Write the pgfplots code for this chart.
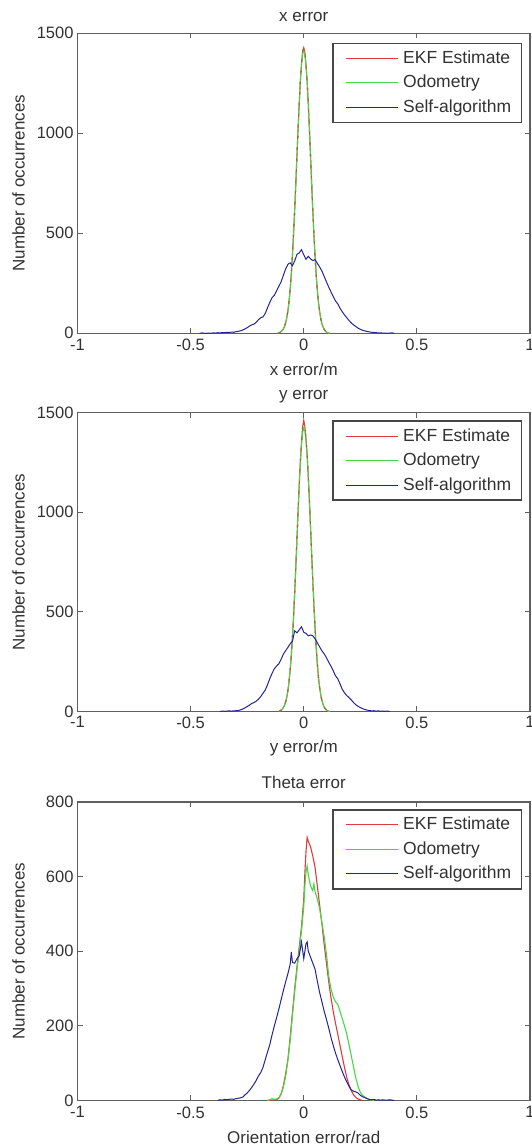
\documentclass[border=0pt]{standalone}
\usepackage{fontspec}
\setmainfont{Liberation Sans}
\usepackage{pgfplots}
\usepackage{pgfplotstable}
\pgfplotsset{compat=1.18}
\definecolor{mred}{RGB}{222,60,60}
\definecolor{mgreen}{RGB}{70,215,70}
\definecolor{mblue}{RGB}{35,35,150}
\definecolor{axgray}{RGB}{95,95,95}
\definecolor{txtgray}{RGB}{50,50,50}
\definecolor{legframe}{RGB}{70,70,70}
\definecolor{dashbrown}{RGB}{170,100,50}

% ---------- x error ----------
\pgfplotstableread{
x y
-0.115 0
-0.110 2
-0.105 4
-0.100 9
-0.095 14
-0.090 22
-0.085 34
-0.080 52
-0.075 78
-0.070 112
-0.065 160
-0.060 221
-0.055 297
-0.050 390
-0.045 498
-0.040 620
-0.035 752
-0.030 890
-0.025 1025
-0.020 1150
-0.015 1262
-0.010 1345
-0.005 1410
0.000 1428
0.005 1405
0.010 1340
0.015 1258
0.020 1148
0.025 1022
0.030 885
0.035 748
0.040 615
0.045 492
0.050 385
0.055 292
0.060 216
0.065 156
0.070 110
0.075 75
0.080 50
0.085 32
0.090 20
0.095 12
0.100 7
0.105 3
0.110 1
0.115 0
}\xred
\pgfplotstableread{
x y
-0.115 0
-0.110 2
-0.105 4
-0.100 9
-0.095 14
-0.090 22
-0.085 34
-0.080 52
-0.075 78
-0.070 112
-0.065 160
-0.060 221
-0.055 297
-0.050 390
-0.045 498
-0.040 620
-0.035 752
-0.030 890
-0.025 1025
-0.020 1150
-0.015 1262
-0.010 1345
-0.005 1398
0.000 1412
0.005 1395
0.010 1340
0.015 1258
0.020 1148
0.025 1022
0.030 885
0.035 748
0.040 615
0.045 492
0.050 385
0.055 292
0.060 216
0.065 156
0.070 110
0.075 75
0.080 50
0.085 32
0.090 20
0.095 12
0.100 7
0.105 3
0.110 1
0.115 0
}\xgreen
\pgfplotstableread{
x y
-0.46 0
-0.45 2
-0.44 0
-0.43 0
-0.42 1
-0.41 0
-0.40 2
-0.39 1
-0.38 3
-0.37 2
-0.36 4
-0.35 3
-0.34 5
-0.33 4
-0.32 6
-0.31 5
-0.30 8
-0.29 10
-0.28 12
-0.27 16
-0.26 22
-0.25 28
-0.24 36
-0.23 42
-0.22 46
-0.21 55
-0.20 68
-0.19 78
-0.18 82
-0.17 100
-0.16 128
-0.15 155
-0.14 178
-0.13 190
-0.12 212
-0.11 235
-0.10 258
-0.09 290
-0.08 322
-0.07 345
-0.06 352
-0.05 338
-0.04 362
-0.03 395
-0.02 402
-0.01 418
0.00 392
0.01 370
0.02 385
0.03 372
0.04 364
0.05 368
0.06 350
0.07 332
0.08 312
0.09 285
0.10 258
0.11 232
0.12 208
0.13 185
0.14 162
0.15 148
0.16 126
0.17 108
0.18 92
0.19 78
0.20 64
0.21 52
0.22 42
0.23 34
0.24 26
0.25 20
0.26 15
0.27 12
0.28 9
0.29 7
0.30 5
0.31 4
0.32 3
0.33 2
0.34 2
0.35 1
0.36 1
0.37 0
0.38 1
0.39 2
0.40 0
}\xblue

% ---------- y error ----------
\pgfplotstableread{
x y
-0.110 0
-0.105 3
-0.100 7
-0.095 12
-0.090 20
-0.085 31
-0.080 48
-0.075 72
-0.070 105
-0.065 150
-0.060 208
-0.055 282
-0.050 372
-0.045 478
-0.040 598
-0.035 730
-0.030 868
-0.025 1005
-0.020 1135
-0.015 1255
-0.010 1350
-0.005 1428
0.000 1462
0.005 1430
0.010 1368
0.015 1290
0.020 1182
0.025 1060
0.030 925
0.035 790
0.040 655
0.045 530
0.050 418
0.055 320
0.060 238
0.065 172
0.070 122
0.075 84
0.080 56
0.085 36
0.090 23
0.095 14
0.100 8
0.105 4
0.110 1
0.115 0
}\yred
\pgfplotstableread{
x y
-0.110 0
-0.105 3
-0.100 7
-0.095 12
-0.090 20
-0.085 31
-0.080 48
-0.075 72
-0.070 105
-0.065 150
-0.060 208
-0.055 282
-0.050 372
-0.045 478
-0.040 598
-0.035 730
-0.030 868
-0.025 1005
-0.020 1135
-0.015 1250
-0.010 1340
-0.005 1400
0.000 1422
0.005 1408
0.010 1360
0.015 1285
0.020 1180
0.025 1060
0.030 925
0.035 790
0.040 655
0.045 530
0.050 418
0.055 320
0.060 238
0.065 172
0.070 122
0.075 84
0.080 56
0.085 36
0.090 23
0.095 14
0.100 8
0.105 4
0.110 1
0.115 0
}\ygreen
\pgfplotstableread{
x y
-0.37 0
-0.36 2
-0.35 1
-0.34 2
-0.33 3
-0.32 2
-0.31 3
-0.30 4
-0.29 5
-0.28 8
-0.27 12
-0.26 18
-0.25 25
-0.24 32
-0.23 40
-0.22 45
-0.21 52
-0.20 62
-0.19 75
-0.18 92
-0.17 108
-0.16 135
-0.15 165
-0.14 192
-0.13 215
-0.12 228
-0.11 240
-0.10 262
-0.09 288
-0.08 305
-0.07 322
-0.06 340
-0.05 352
-0.04 405
-0.03 395
-0.02 410
-0.01 425
0.00 398
0.01 392
0.02 380
0.03 384
0.04 380
0.05 365
0.06 345
0.07 325
0.08 305
0.09 290
0.10 270
0.11 248
0.12 228
0.13 205
0.14 180
0.15 165
0.16 140
0.17 112
0.18 94
0.19 80
0.20 70
0.21 58
0.22 45
0.23 34
0.24 26
0.25 20
0.26 14
0.27 10
0.28 7
0.29 5
0.30 3
0.31 4
0.32 2
0.33 3
0.34 1
0.35 2
0.36 1
0.37 2
0.38 0
}\yblue

% ---------- theta error ----------
\pgfplotstableread{
x y
-0.16 0
-0.15 1
-0.14 1
-0.13 2
-0.12 2
-0.11 6
-0.10 18
-0.09 40
-0.08 72
-0.07 110
-0.06 170
-0.05 235
-0.04 300
-0.03 358
-0.02 412
-0.01 465
0.000 540
0.005 610
0.010 668
0.015 705
0.020 695
0.030 680
0.040 655
0.050 625
0.060 575
0.070 525
0.080 475
0.090 420
0.100 370
0.110 320
0.120 277
0.130 240
0.140 208
0.150 179
0.160 148
0.170 118
0.180 89
0.190 62
0.200 42
0.210 27
0.220 15
0.230 8
0.240 4
0.250 2
0.260 0
}\tred
\pgfplotstableread{
x y
-0.16 0
-0.15 2
-0.14 5
-0.13 3
-0.12 4
-0.11 8
-0.10 17
-0.09 36
-0.08 65
-0.07 108
-0.06 160
-0.05 228
-0.04 292
-0.03 350
-0.02 400
-0.01 455
0.000 520
0.005 575
0.010 612
0.015 628
0.020 605
0.030 575
0.040 562
0.045 580
0.050 560
0.060 540
0.070 515
0.080 478
0.090 440
0.100 395
0.110 335
0.120 300
0.130 278
0.140 265
0.150 258
0.160 240
0.170 220
0.180 200
0.190 178
0.200 150
0.210 120
0.220 90
0.230 60
0.240 38
0.250 22
0.260 14
0.270 9
0.280 5
0.290 2
0.300 1
0.310 0
}\tgreen
\pgfplotstableread{
x y
-0.38 0
-0.37 2
-0.36 1
-0.35 3
-0.34 2
-0.33 3
-0.32 4
-0.31 3
-0.30 5
-0.29 6
-0.28 7
-0.27 9
-0.26 15
-0.25 20
-0.24 27
-0.23 35
-0.22 44
-0.21 54
-0.20 66
-0.19 75
-0.18 89
-0.17 110
-0.16 130
-0.15 150
-0.14 176
-0.13 200
-0.12 222
-0.11 245
-0.10 270
-0.09 295
-0.08 318
-0.07 340
-0.06 365
-0.055 398
-0.05 370
-0.04 368
-0.03 380
-0.02 388
-0.01 425
0.000 380
0.010 420
0.015 425
0.020 400
0.030 384
0.040 368
0.050 352
0.060 320
0.070 290
0.080 265
0.090 240
0.100 218
0.110 195
0.120 170
0.130 148
0.140 128
0.150 110
0.160 94
0.170 78
0.180 63
0.190 50
0.200 38
0.210 28
0.220 25
0.230 23
0.240 20
0.250 14
0.260 10
0.270 8
0.280 5
0.290 3
0.300 2
0.310 3
0.320 1
0.330 2
0.340 1
0.350 2
0.360 1
0.370 1
0.380 2
0.390 1
0.400 0
}\tblue

\pgfplotsset{
  legend image code/.code={%
    \path (0pt,0pt) (59pt,0pt);
    \draw[#1, line width=1.1pt] (4pt,0pt) -- (56pt,0pt);},
  hist/.style={
    scale only axis, width=452.5pt,
    xmin=-1, xmax=1, ymin=0,
    xtick={-1,-0.5,0,0.5,1}, xticklabels={-1,-0.5,0,0.5,1},
    tick align=inside, major tick length=5pt,
    axis line style={axgray, line width=1.2pt},
    every tick/.style={axgray, line width=1pt},
    tick label style={font=\fontsize{16.5}{18}\selectfont, text=txtgray},
    xticklabel style={yshift=-2.5pt},
    yticklabel style={xshift=-0.5pt},
    label style={font=\fontsize{17}{19}\selectfont, text=txtgray},
    title style={font=\fontsize{17}{19}\selectfont, text=txtgray, anchor=base, yshift=-6pt},
    ylabel={Number of occurrences},
    ylabel style={at={(axis description cs:-0.1304,0.5)}, anchor=center},
    xlabel style={anchor=base},
    legend style={anchor=north east,
      draw=legframe, line width=1.2pt, font=\fontsize{17.5}{20}\selectfont,
      text=txtgray, row sep=4.5pt, inner xsep=8pt, inner ysep=5pt,
      nodes={inner sep=2pt, text height=13pt, text depth=3pt}},
    legend cell align=left,
    every axis plot/.append style={line width=1.1pt},
  }
}

\begin{document}
\begin{tikzpicture}
\useasboundingbox (0,0) rectangle (531pt,1146pt);

\begin{axis}[hist, at={(77.5pt,812.7pt)}, anchor=south west, height=300pt,
  ymax=1500, ytick={0,500,1000,1500}, yticklabels={0,500,1000,1500},
  title={x error}, title style={at={(axis description cs:0.5,1.04)}},
  xlabel={x error/m}, xlabel style={at={(axis description cs:0.5,-0.140)}},
  legend style={at={(axis description cs:0.9817,0.9687)}}]
\addplot[mred] table {\xred};
\addlegendentry{EKF Estimate}
\addplot[mgreen] table {\xgreen};
\addlegendentry{Odometry}
\addplot[dashbrown, dash pattern=on 3pt off 8pt, forget plot] table {\xred};
\addplot[mblue, line width=1pt] table {\xblue};
\addlegendentry{Self-algorithm}
\end{axis}

\begin{axis}[hist, at={(77.5pt,434.5pt)}, anchor=south west, height=298.8pt,
  ymax=1500, ytick={0,500,1000,1500}, yticklabels={0,500,1000,1500},
  xticklabel style={yshift=1pt},
  title={y error}, title style={at={(axis description cs:0.5,1.045)}},
  xlabel={y error/m}, xlabel style={at={(axis description cs:0.5,-0.137)}},
  legend style={at={(axis description cs:0.9817,0.974)}}]
\addplot[mred] table {\yred};
\addlegendentry{EKF Estimate}
\addplot[mgreen] table {\ygreen};
\addlegendentry{Odometry}
\addplot[dashbrown, dash pattern=on 3pt off 8pt, forget plot] table {\yred};
\addplot[mblue, line width=1pt] table {\yblue};
\addlegendentry{Self-algorithm}
\end{axis}

\begin{axis}[hist, at={(77.5pt,45.5pt)}, anchor=south west, height=298.5pt,
  ymax=800, ytick={0,200,400,600,800}, yticklabels={0,200,400,600,800},
  title={Theta error}, title style={at={(axis description cs:0.5,1.045)}},
  xlabel={Orientation error/rad}, xlabel style={at={(axis description cs:0.5,-0.144)}},
  legend style={at={(axis description cs:0.9817,0.9755)}}]
\addplot[mred] table {\tred};
\addlegendentry{EKF Estimate}
\addplot[mgreen] table {\tgreen};
\addlegendentry{Odometry}
\addplot[mblue, line width=1pt] table {\tblue};
\addlegendentry{Self-algorithm}
\end{axis}
\end{tikzpicture}
\end{document}
